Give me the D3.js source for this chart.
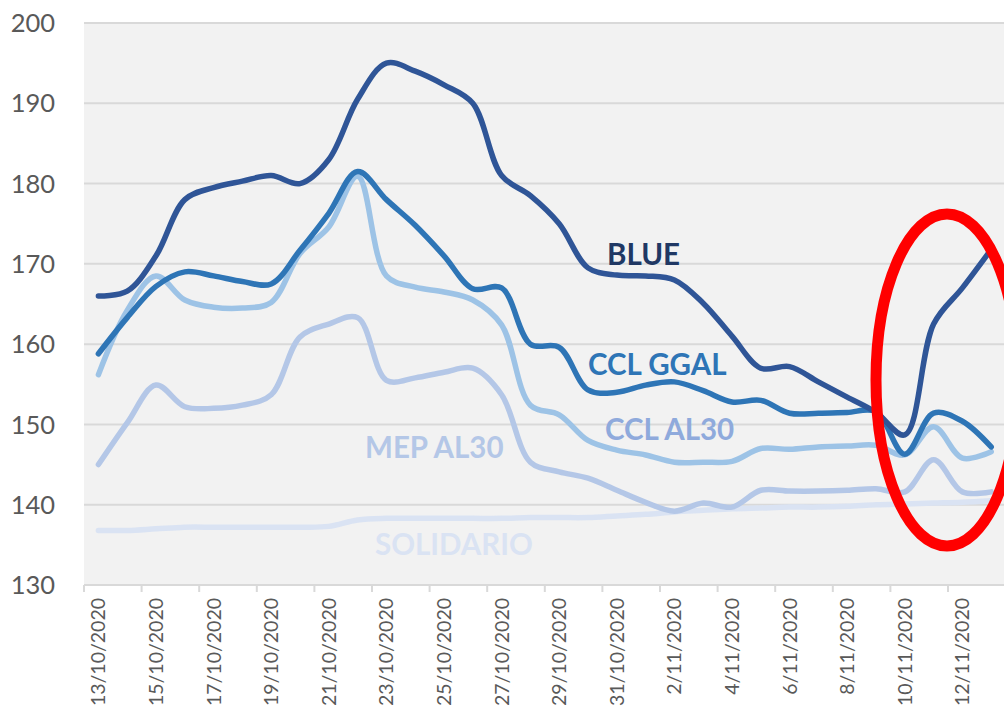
<!DOCTYPE html>
<html><head><meta charset="utf-8">
<script src="https://cdn.jsdelivr.net/npm/d3@7"></script>
<style>html,body{margin:0;padding:0;background:#fff;overflow:hidden}</style>
</head><body>
<svg id="c" width="1004" height="709"></svg>
<script>
const dates = ["13/10/2020","14/10/2020","15/10/2020","16/10/2020","17/10/2020","18/10/2020","19/10/2020","20/10/2020","21/10/2020","22/10/2020","23/10/2020","24/10/2020","25/10/2020","26/10/2020","27/10/2020","28/10/2020","29/10/2020","30/10/2020","31/10/2020","1/11/2020","2/11/2020","3/11/2020","4/11/2020","5/11/2020","6/11/2020","7/11/2020","8/11/2020","9/11/2020","10/11/2020","11/11/2020","12/11/2020","13/11/2020"];
const blue     = [166.0,166.6,171.0,178.0,179.5,180.3,181.0,180.0,183.0,190.5,195.0,194.0,192.3,190.0,181.0,178.5,175.0,169.5,168.6,168.5,168.0,165.1,161.0,157.0,157.2,155.3,153.4,151.5,148.7,162.5,167.0,171.8];
const cclGgal  = [158.8,163.3,167.2,169.0,168.5,167.8,167.5,171.7,176.3,181.5,178.0,174.8,171.0,166.9,167.0,160.0,159.6,154.3,154.0,154.9,155.3,154.2,152.8,153.0,151.4,151.4,151.5,151.6,146.3,151.4,150.4,147.2];
const cclAl30  = [156.2,164.2,168.5,165.5,164.6,164.5,165.2,171.3,174.6,180.9,168.5,167.1,166.5,165.5,162.4,152.4,151.2,148.0,146.8,146.2,145.3,145.3,145.4,147.0,146.9,147.2,147.3,147.4,146.2,149.7,145.8,146.6];
const mepAl30  = [145.0,150.2,154.9,152.2,152.0,152.4,153.7,160.9,162.5,163.3,155.5,155.8,156.5,157.0,153.7,145.3,144.1,143.3,141.8,140.3,139.2,140.2,139.7,141.8,141.7,141.7,141.8,142.0,141.6,145.6,141.6,141.6];
const solidario= [136.8,136.8,137.0,137.2,137.2,137.2,137.2,137.2,137.3,138.1,138.3,138.3,138.3,138.3,138.3,138.4,138.4,138.4,138.6,138.8,139.1,139.3,139.5,139.6,139.7,139.7,139.8,140.0,140.1,140.2,140.3,140.5];
const yTicks = [130,140,150,160,170,180,190,200];
const seriesNames = ["SOLIDARIO","MEP AL30","CCL AL30","CCL GGAL","BLUE"];

const series = [
  {name:seriesNames[0], values:solidario, color:"#dae3f3", label:"#dae3f3", lx:375, ly:555},
  {name:seriesNames[1], values:mepAl30, color:"#b4c7e7", label:"#b4c7e7", lx:365, ly:458},
  {name:seriesNames[2], values:cclAl30, color:"#9dc3e6", label:"#8faadc", lx:605, ly:440},
  {name:seriesNames[3], values:cclGgal, color:"#2e75b6", label:"#2e75b6", lx:588, ly:375},
  {name:seriesNames[4], values:blue, color:"#2f5597", label:"#203864", lx:607, ly:265}
];

const svg = d3.select("#c");
const L = 84, T = 23, R = 1005.6, B = 585;
const x = d3.scaleBand().domain(dates).range([L, R]).paddingInner(0).paddingOuter(0);
const y = d3.scaleLinear().domain([130,200]).range([B, T]);

svg.append("rect").attr("x",L).attr("y",T).attr("width",R-L).attr("height",B-T).attr("fill","#f2f2f2");

svg.append("g").selectAll("line").data(yTicks).join("line")
  .attr("x1",L).attr("x2",R).attr("y1",d=>y(d)).attr("y2",d=>y(d))
  .attr("stroke","#d9d9d9").attr("stroke-width",2);

svg.append("g").selectAll("text").data(yTicks).join("text")
  .attr("x",55).attr("y",d=>y(d)).attr("dy","0.36em").attr("text-anchor","end")
  .attr("font-family","Lato, 'Open Sans', sans-serif").attr("font-size",25.5).attr("fill","#595959")
  .text(d=>d);

const tickIdx = d3.range(0, dates.length+1, 2);
svg.append("g").selectAll("line").data(tickIdx).join("line")
  .attr("x1",i=>L + i*x.bandwidth()).attr("x2",i=>L + i*x.bandwidth())
  .attr("y1",B).attr("y2",B+7).attr("stroke","#d9d9d9").attr("stroke-width",2);
svg.append("line").attr("x1",L).attr("x2",R).attr("y1",B).attr("y2",B).attr("stroke","#d9d9d9").attr("stroke-width",2);

svg.append("g").selectAll("text").data(dates.filter((d,i)=>i%2===0)).join("text")
  .attr("transform",d=>`translate(${x(d)+x.bandwidth()/2},598) rotate(-90)`)
  .attr("text-anchor","end").attr("dy","0.36em")
  .attr("font-family","Lato, 'Open Sans', sans-serif").attr("font-size",19.5).attr("fill","#595959")
  .text(d=>d);

const line = d3.line().x((d,i)=>x(dates[i])+x.bandwidth()/2).y(d=>y(d)).curve(d3.curveCatmullRom.alpha(0.5));

svg.append("g").selectAll("path").data(series).join("path")
  .attr("d",s=>line(s.values)).attr("fill","none").attr("stroke",s=>s.color)
  .attr("stroke-width",5.5).attr("stroke-linejoin","round").attr("stroke-linecap","round");

svg.append("g").selectAll("text").data(series).join("text")
  .attr("x",s=>s.lx).attr("y",s=>s.ly).attr("fill",s=>s.label)
  .attr("font-family","Lato, 'Open Sans', sans-serif").attr("font-weight","bold").attr("font-size",29.5)
  .text(s=>s.name);

svg.append("ellipse").attr("cx",947).attr("cy",380).attr("rx",71).attr("ry",166)
  .attr("fill","none").attr("stroke","#ff0000").attr("stroke-width",11);
</script>
</body></html>
